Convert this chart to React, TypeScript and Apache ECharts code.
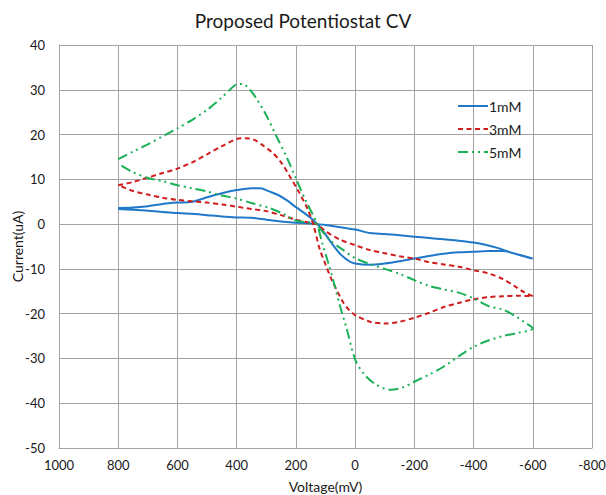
import React, { useEffect, useRef } from "react";
import * as echarts from "echarts";

// Cyclic voltammetry sweeps: voltage (mV) and current (uA), forward then return branch.
const v1mM = [800, 750, 700, 650, 600, 550, 500, 450, 400, 350, 320, 290, 260, 230, 200, 170, 140, 110, 80, 50, 20, 0, -50, -100, -150, -200, -250, -300, -350, -400, -450, -500, -540, -570, -600,
  -560, -520, -480, -440, -400, -350, -300, -250, -200, -150, -100, -50, 0, 50, 100, 130, 160, 200, 250, 300, 350, 400, 450, 500, 550, 600, 650, 700, 750, 800];
const i1mM = [3.6, 3.7, 4.0, 4.5, 4.8, 5.0, 6.0, 6.9, 7.6, 8.0, 8.0, 7.3, 6.5, 5.3, 3.8, 2.4, 0.8, -1.4, -4.2, -6.7, -8.3, -8.8, -9.1, -8.8, -8.3, -7.7, -7.1, -6.6, -6.3, -6.2, -6.0, -6.0, -6.6, -7.1, -7.7,
  -7.0, -6.2, -5.3, -4.6, -4.1, -3.7, -3.4, -3.1, -2.8, -2.5, -2.2, -2.0, -1.2, -0.7, -0.2, 0.0, 0.2, 0.3, 0.6, 1.0, 1.4, 1.5, 1.7, 2.0, 2.3, 2.5, 2.7, 3.0, 3.2, 3.4];

const v3mM = [800, 750, 700, 650, 600, 550, 500, 450, 400, 370, 340, 310, 280, 250, 220, 190, 160, 140, 120, 100, 80, 60, 40, 20, 0, -50, -100, -150, -200, -250, -300, -350, -400, -450, -500, -550, -600,
  -570, -540, -500, -450, -400, -350, -300, -250, -200, -150, -100, -50, 0, 50, 100, 130, 160, 200, 250, 300, 350, 400, 450, 500, 550, 600, 650, 700, 750, 800];
const i3mM = [8.7, 9.4, 10.4, 11.4, 12.4, 13.8, 15.6, 17.4, 19.0, 19.2, 18.8, 17.5, 16.0, 13.8, 10.6, 7.2, 3.3, -0.4, -5.5, -9.0, -12.3, -15.0, -17.5, -19.2, -20.3, -21.8, -22.2, -21.8, -20.9, -19.8, -18.5, -17.6, -16.8, -16.3, -16.1, -16.0, -16.1,
  -15.2, -13.9, -12.3, -11.0, -10.3, -9.5, -9.0, -8.5, -7.7, -7.2, -6.5, -5.8, -4.7, -3.5, -1.6, 0.0, 0.4, 1.0, 2.0, 2.9, 3.4, 3.9, 4.4, 4.8, 5.1, 5.4, 5.9, 6.6, 7.4, 8.7];

const v5mM = [800, 750, 700, 650, 600, 550, 500, 450, 420, 400, 380, 355, 330, 300, 265, 230, 200, 165, 130, 110, 90, 70, 50, 30, 0, -30, -70, -120, -160, -200, -250, -300, -350, -400, -450, -500, -550, -600,
  -570, -540, -500, -450, -400, -350, -300, -250, -200, -150, -100, -50, 0, 40, 85, 118, 135, 160, 200, 240, 290, 350, 400, 450, 500, 550, 600, 650, 700, 750, 800];
const i5mM = [14.5, 16.2, 17.8, 19.6, 21.4, 23.3, 25.5, 28.3, 30.2, 31.2, 31.3, 30.0, 27.7, 24.3, 19.5, 14.8, 10.2, 5.0, 0.3, -4.5, -8.8, -13.5, -18.5, -23.0, -30.2, -33.5, -35.8, -37.0, -36.5, -35.2, -33.6, -31.8, -29.5, -27.4, -26.0, -25.0, -24.3, -23.3,
  -21.8, -20.5, -19.1, -18.3, -16.6, -15.3, -14.6, -13.8, -12.5, -11.1, -10.0, -8.9, -7.6, -5.8, -3.6, -1.0, 0.2, 0.4, 0.8, 2.2, 3.6, 4.7, 5.7, 6.4, 7.3, 8.0, 8.7, 9.6, 10.3, 11.6, 13.5];

const seriesNames = ["1mM", "3mM", "5mM"];

const pairs = (v: number[], i: number[]) => v.map((x, k) => [x, i[k]]);

const FONT = "Lato, 'Noto Sans', sans-serif";
const GRID_COLOR = "#a3a3a3";
const TEXT_COLOR = "#1a1a1a";

export default function App() {
  const ref = useRef<HTMLDivElement>(null);

  useEffect(() => {
    document.body.style.margin = "0";
    if (!ref.current) return;
    const chart = echarts.init(ref.current, undefined, { renderer: "svg" });
    chart.setOption({
      animation: false,
      backgroundColor: "#ffffff",
      textStyle: { fontFamily: FONT },
      title: {
        text: "Proposed Potentiostat CV",
        left: "center",
        top: 6,
        textStyle: { fontFamily: FONT, fontSize: 19, fontWeight: "normal", color: TEXT_COLOR },
      },
      legend: {
        orient: "vertical",
        left: 452,
        top: 94,
        itemWidth: 30,
        itemHeight: 14,
        itemGap: 9,
        itemStyle: { opacity: 0 },
        textStyle: { fontFamily: FONT, fontSize: 14, color: TEXT_COLOR, padding: [0, 0, 0, -4] },
        data: seriesNames,
      },
      grid: { left: 59, right: 14, top: 45, bottom: 47, containLabel: false, outerBoundsMode: "none" },
      xAxis: {
        type: "value",
        inverse: true,
        min: -800,
        max: 1000,
        interval: 200,
        name: "Voltage(mV)",
        nameLocation: "middle",
        nameGap: 31,
        nameMoveOverlap: false,
        nameTextStyle: { fontFamily: FONT, fontSize: 14, color: TEXT_COLOR },
        axisLine: { show: true, onZero: false, lineStyle: { color: GRID_COLOR } },
        axisTick: { show: false },
        axisLabel: { fontFamily: FONT, fontSize: 13, color: TEXT_COLOR, margin: 10, formatter: (v: number) => String(v) },
        splitLine: { show: true, lineStyle: { color: GRID_COLOR, width: 1 } },
      },
      yAxis: {
        type: "value",
        min: -50,
        max: 40,
        interval: 10,
        name: "Current(uA)",
        nameLocation: "middle",
        nameGap: 35,
        nameRotate: 90,
        nameMoveOverlap: false,
        nameTextStyle: { fontFamily: FONT, fontSize: 14, color: TEXT_COLOR },
        axisLine: { show: true, onZero: false, lineStyle: { color: GRID_COLOR } },
        axisTick: { show: false },
        axisLabel: { fontFamily: FONT, fontSize: 13, color: TEXT_COLOR, margin: 14, formatter: (v: number) => String(v) },
        splitLine: { show: true, lineStyle: { color: GRID_COLOR, width: 1 } },
      },
      series: [
        {
          name: seriesNames[0],
          type: "line",
          symbol: "none",
          smooth: 0.3,
          data: pairs(v1mM, i1mM),
          lineStyle: { color: "#1f78c8", width: 2, type: "solid" },
          itemStyle: { color: "#1f78c8" },
        },
        {
          name: seriesNames[1],
          type: "line",
          symbol: "none",
          smooth: 0.3,
          data: pairs(v3mM, i3mM),
          lineStyle: { color: "#d01c1c", width: 2, type: [5, 3.5] },
          itemStyle: { color: "#d01c1c" },
        },
        {
          name: seriesNames[2],
          type: "line",
          symbol: "none",
          smooth: 0.3,
          data: pairs(v5mM, i5mM),
          lineStyle: { color: "#1ab157", width: 2, type: [10, 4, 2, 4, 2, 4] },
          itemStyle: { color: "#1ab157" },
        },
      ],
    });
    return () => chart.dispose();
  }, []);

  return <div ref={ref} style={{ width: 606, height: 495 }} />;
}
